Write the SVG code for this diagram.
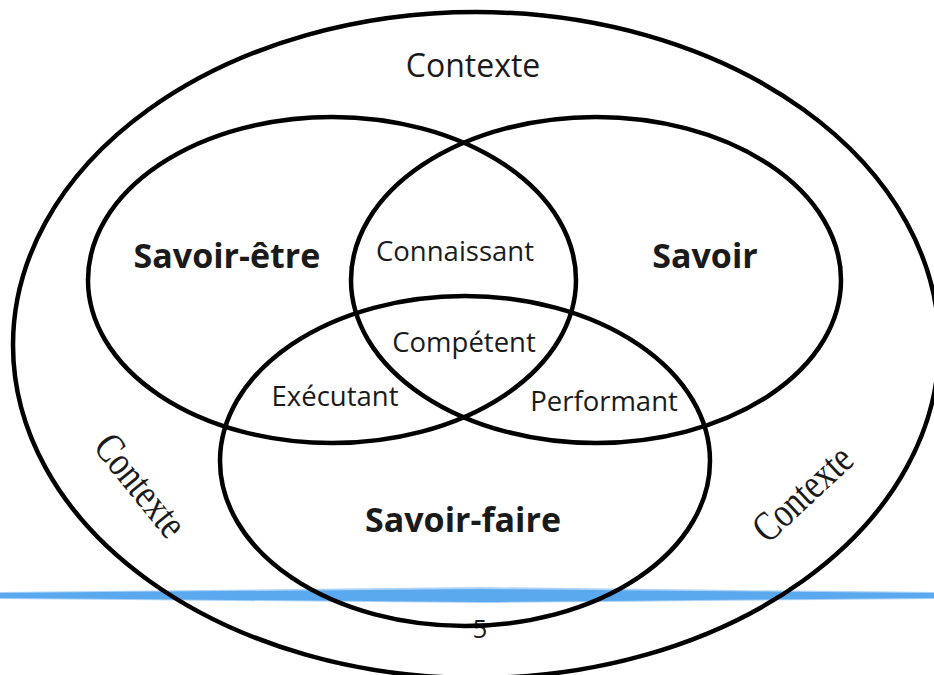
<svg xmlns="http://www.w3.org/2000/svg" width="934" height="675" viewBox="0 0 934 675">
<style>
.ring{fill:none;stroke:#000;stroke-width:4.5}
.lbl{font-family:"Open Sans","Noto Sans",sans-serif;fill:#1a1a1a;text-anchor:middle}
.b{font-weight:bold;font-size:34px}
.r{font-size:27.5px}
.ctx{font-family:"Liberation Serif",serif;font-size:42px;fill:#1a1a1a;text-anchor:middle}
</style>
<rect width="934" height="675" fill="#fff"/>
<g id="band">
<path d="M0,592 Q240,590 482,587 Q700,590 934,592 L934,599 Q700,601 482,603 Q240,601 0,599 Z" fill="#aed3f7"/>
<path d="M0,593 Q240,591 482,589 Q700,591 934,593 L934,598 Q700,600 482,602 Q240,600 0,598 Z" fill="#5aa9ef"/>
</g>
<text x="480" y="638" style="font-family:'Open Sans',sans-serif;font-size:26px;fill:#1a1a1a;text-anchor:middle">5</text>
<g id="contexte">
<ellipse class="ring" cx="476" cy="345" rx="463" ry="333"/>
<text class="lbl" x="473" y="77" style="font-size:32px">Contexte</text>
<text class="ctx" transform="translate(140,486) rotate(51)" y="13" textLength="120" lengthAdjust="spacingAndGlyphs">Contexte</text>
<text class="ctx" transform="translate(803,494) rotate(-43)" y="13" textLength="120" lengthAdjust="spacingAndGlyphs">Contexte</text>
</g>
<g id="savoir-etre">
<ellipse class="ring" cx="332" cy="280" rx="244" ry="163"/>
<text class="lbl b" x="227" y="268">Savoir-être</text>
</g>
<g id="savoir">
<ellipse class="ring" cx="596" cy="280" rx="245" ry="163"/>
<text class="lbl b" x="705" y="268">Savoir</text>
</g>
<g id="savoir-faire">
<ellipse class="ring" cx="465" cy="461" rx="245" ry="165"/>
<text class="lbl b" x="463" y="532">Savoir-faire</text>
</g>
<g id="intersections">
<text class="lbl r" x="455" y="261">Connaissant</text>
<text class="lbl r" x="464" y="352">Compétent</text>
<text class="lbl r" x="335" y="406">Exécutant</text>
<text class="lbl r" x="604" y="411">Performant</text>
</g>
</svg>
